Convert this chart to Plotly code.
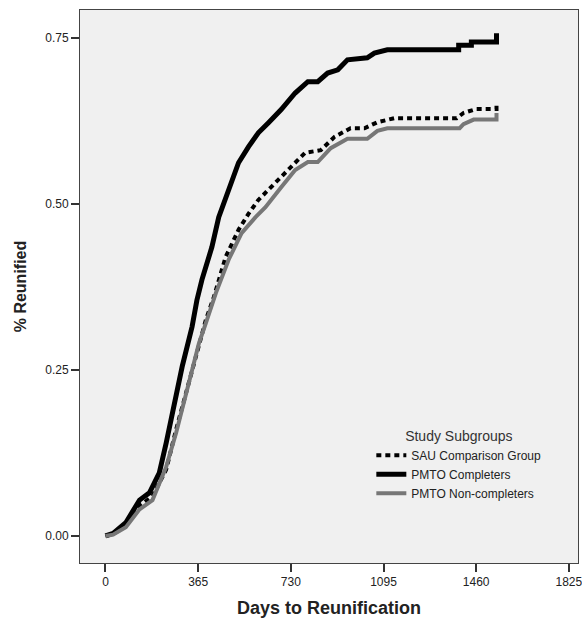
import plotly.graph_objects as go

# Series (days, proportion reunified)
sau_days = [0, 30, 80, 134, 185, 239, 278, 317, 356, 395, 427, 473, 524, 563, 602, 669, 731,
            786, 848, 902, 965, 1020, 1071, 1137, 1383, 1410, 1461, 1532, 1540, 1540]
sau_vals = [0.0, 0.003, 0.015, 0.045, 0.06, 0.10, 0.16, 0.215, 0.27, 0.325, 0.36, 0.42, 0.461, 0.485,
            0.506, 0.532, 0.557, 0.577, 0.581, 0.601, 0.614, 0.614, 0.623, 0.629, 0.629, 0.637,
            0.643, 0.643, 0.643, 0.654]

comp_days = [0, 30, 80, 134, 173, 212, 239, 263, 302, 341, 360, 380, 419, 446, 493, 524, 563,
             602, 641, 692, 747, 797, 836, 875, 915, 953, 1031, 1059, 1110, 1391, 1391, 1441,
             1441, 1540, 1540]
comp_vals = [0.0, 0.004, 0.02, 0.054, 0.065, 0.095, 0.14, 0.185, 0.255, 0.315, 0.355, 0.386, 0.435,
             0.48, 0.53, 0.562, 0.586, 0.607, 0.622, 0.642, 0.667, 0.684, 0.684, 0.697, 0.702,
             0.717, 0.72, 0.727, 0.732, 0.732, 0.739, 0.739, 0.744, 0.744, 0.757]

non_days = [0, 30, 80, 134, 185, 239, 278, 317, 356, 368, 395, 435, 485, 536, 591, 630, 692, 747,
            797, 836, 887, 953, 1031, 1071, 1110, 1395, 1410, 1450, 1532, 1540, 1540]
non_vals = [0.0, 0.002, 0.013, 0.04, 0.054, 0.104, 0.155, 0.215, 0.27, 0.29, 0.32, 0.366, 0.416,
            0.456, 0.48, 0.495, 0.525, 0.551, 0.563, 0.563, 0.584, 0.598, 0.598, 0.61, 0.614,
            0.614, 0.62, 0.627, 0.627, 0.627, 0.637]

x_ticks = [0, 365, 730, 1095, 1460, 1825]
y_ticks = [0.0, 0.25, 0.50, 0.75]

fig = go.Figure()
fig.add_trace(go.Scatter(x=sau_days, y=sau_vals, mode="lines", name="SAU Comparison Group",
                         line=dict(color="black", width=4, dash="5px,4px")))
fig.add_trace(go.Scatter(x=comp_days, y=comp_vals, mode="lines", name="PMTO Completers",
                         line=dict(color="black", width=5)))
fig.add_trace(go.Scatter(x=non_days, y=non_vals, mode="lines", name="PMTO Non-completers",
                         line=dict(color="#777777", width=4)))

fig.update_layout(
    width=582, height=621,
    margin=dict(l=80, r=0, t=10, b=58),
    paper_bgcolor="white",
    plot_bgcolor="#f0f0f0",
    font=dict(family="Liberation Sans, Arial, sans-serif", color="#222222", size=12),
    showlegend=True,
    legend=dict(
        x=0.585, y=0.254, xanchor="left", yanchor="top",
        bgcolor="rgba(0,0,0,0)",
        title=dict(text="Study Subgroups", side="top center",
                   font=dict(size=14, color="#333333")),
        font=dict(size=12, color="#222222"),
        itemwidth=30,
    ),
)
fig.update_xaxes(
    range=[-100.4, 1861], tickvals=x_ticks, ticktext=[str(v) for v in x_ticks],
    showgrid=False, zeroline=False, showline=True, linecolor="#444444", linewidth=1,
    mirror=True, ticks="outside", ticklen=8, tickcolor="#333333", tickwidth=2,
    tickfont=dict(size=12, color="#222222"), ticklabeloverflow="allow",
    title=dict(text="<b>Days to Reunification</b>", font=dict(size=18, color="#222222"), standoff=12),
)
fig.update_yaxes(
    range=[-0.0407, 0.792], tickvals=y_ticks, tickformat=".2f",
    showgrid=False, zeroline=False, showline=True, linecolor="#444444", linewidth=1,
    mirror=True, ticks="outside", ticklen=8, tickcolor="#333333", tickwidth=2,
    tickfont=dict(size=12, color="#222222"),
    title=dict(text="<b>% Reunified</b>", font=dict(size=16, color="#222222"), standoff=14),
)

fig.write_html(
    "out.html",
    config={"displayModeBar": False},
    post_script="document.body.style.margin='0';"
                "document.body.style.overflow='hidden';"
                "document.documentElement.style.overflow='hidden';",
)
